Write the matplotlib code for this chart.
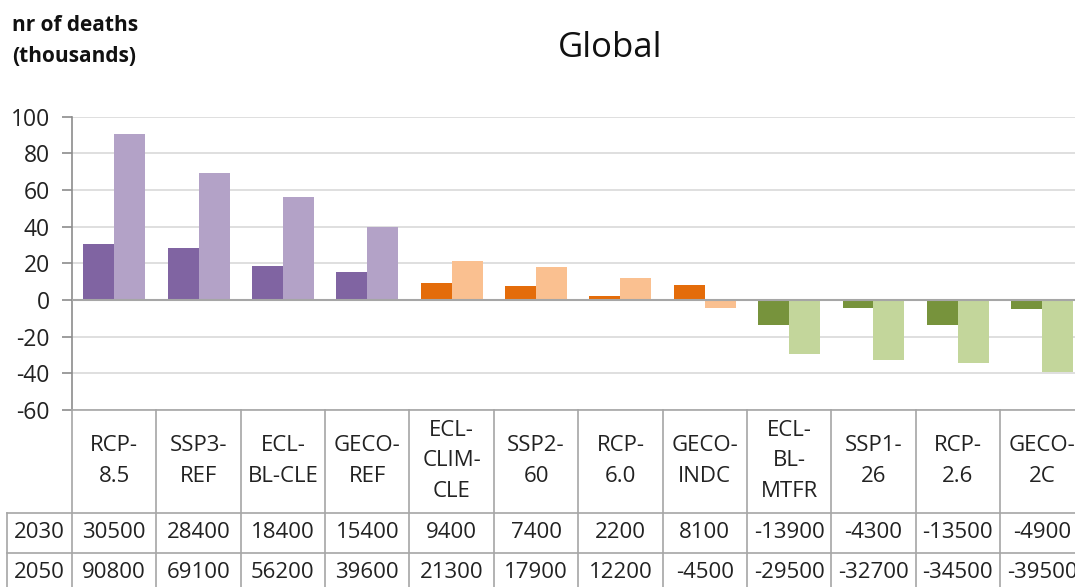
import numpy as np
import matplotlib
matplotlib.use('Agg')
import matplotlib.pyplot as plt

plt.rcParams['font.family'] = ['Open Sans', 'DejaVu Sans']

# scenarios, as written in the data table header (wrapped like the cells)
scenarios = ['RCP-\n8.5', 'SSP3-\nREF', 'ECL-\nBL-CLE', 'GECO-\nREF', 'ECL-\nCLIM-\nCLE',
             'SSP2-\n60', 'RCP-\n6.0', 'GECO-\nINDC', 'ECL-\nBL-\nMTFR', 'SSP1-\n26',
             'RCP-\n2.6', 'GECO-\n2C']
years = ['2030', '2050']
deaths_2030 = [30500, 28400, 18400, 15400, 9400, 7400, 2200, 8100, -13900, -4300, -13500, -4900]
deaths_2050 = [90800, 69100, 56200, 39600, 21300, 17900, 12200, -4500, -29500, -32700, -34500, -39500]

# colour family per group of four scenarios: (2030 shade, 2050 shade)
group_colors = [('#8064A2', '#B3A2C7'), ('#E46C0A', '#FAC090'), ('#77933C', '#C3D69B')]
yticks = [-60, -40, -20, 0, 20, 40, 60, 80, 100]

W, H = 1075, 587
fig = plt.figure(figsize=(W / 100, H / 100), dpi=100)

# plot area in pixels: x 72..1084 (last column runs off the page), y 117..410
x0, x1 = 72, 1084.4
ytop, ybot = 116.7, 410
ax = fig.add_axes([x0 / W, (H - ybot) / H, (x1 - x0) / W, (ybot - ytop) / H])

n = len(scenarios)
x = np.arange(n)
bw = 0.367
c30 = [group_colors[i // 4][0] for i in range(n)]
c50 = [group_colors[i // 4][1] for i in range(n)]
ax.bar(x - bw / 2, np.array(deaths_2030) / 1000, bw, color=c30, zorder=3)
ax.bar(x + bw / 2, np.array(deaths_2050) / 1000, bw, color=c50, zorder=3)

ax.set_xlim(-0.5, n - 0.5)
ax.set_ylim(-60, 100)
ax.set_yticks(yticks)
ax.set_yticklabels([str(t) for t in yticks], fontsize=16.5, color='#222222')
ax.set_xticks([])
ax.yaxis.grid(True, color='#D9D9D9', lw=1.2, zorder=0)
ax.axhline(0, color='#A6A6A6', lw=1.5, zorder=4)
for s in ['top', 'right']:
    ax.spines[s].set_visible(False)
ax.spines['left'].set_color('#8C8C8C')
ax.spines['bottom'].set_color('#A6A6A6')
ax.spines['left'].set_linewidth(1.2)
ax.spines['bottom'].set_linewidth(1.2)
ax.tick_params(axis='y', length=7, width=1.2, color='#8C8C8C', pad=9)

fig.text(610 / W, 1 - 48 / H, 'Global', fontsize=25, ha='center', va='center', color='#111111')
fig.text(12 / W, 1 - 41 / H, 'nr of deaths\n(thousands)', fontsize=15, fontweight='bold',
         ha='left', va='center', linespacing=1.65, color='#111111')

# data table underneath, y in pixel rows (downwards)
tab = fig.add_axes([x0 / W, 0, (x1 - x0) / W, (H - ybot) / H])
tab.set_xlim(-0.5, n - 0.5)
tab.set_ylim(H, ybot)
tab.axis('off')

line_c = '#A6A6A6'
left_edge = -0.5 + (7 - x0) / ((x1 - x0) / n)
row_lines = [512.5, 552.5, 592.5]
for xb in np.arange(n + 1) - 0.5:
    tab.plot([xb, xb], [ybot, H + 5], color=line_c, lw=1.2, clip_on=False)
tab.plot([left_edge, left_edge], [row_lines[0], H + 5], color=line_c, lw=1.2, clip_on=False)
for yl in row_lines:
    tab.plot([left_edge, n - 0.5], [yl, yl], color=line_c, lw=1.2, clip_on=False)

for i, lab in enumerate(scenarios):
    tab.text(i, 461, lab, ha='center', va='center', fontsize=16, linespacing=1.6, color='#222222')

row_mid = [533, 573]
year_x = (left_edge - 0.5) / 2
for r, (yr, vals) in enumerate(zip(years, [deaths_2030, deaths_2050])):
    tab.text(year_x, row_mid[r], yr, ha='center', va='center', fontsize=16, color='#222222',
             clip_on=False)
    for i, v in enumerate(vals):
        tab.text(i, row_mid[r], str(v), ha='center', va='center', fontsize=16, color='#222222')

fig.savefig('out.png', dpi=100)
